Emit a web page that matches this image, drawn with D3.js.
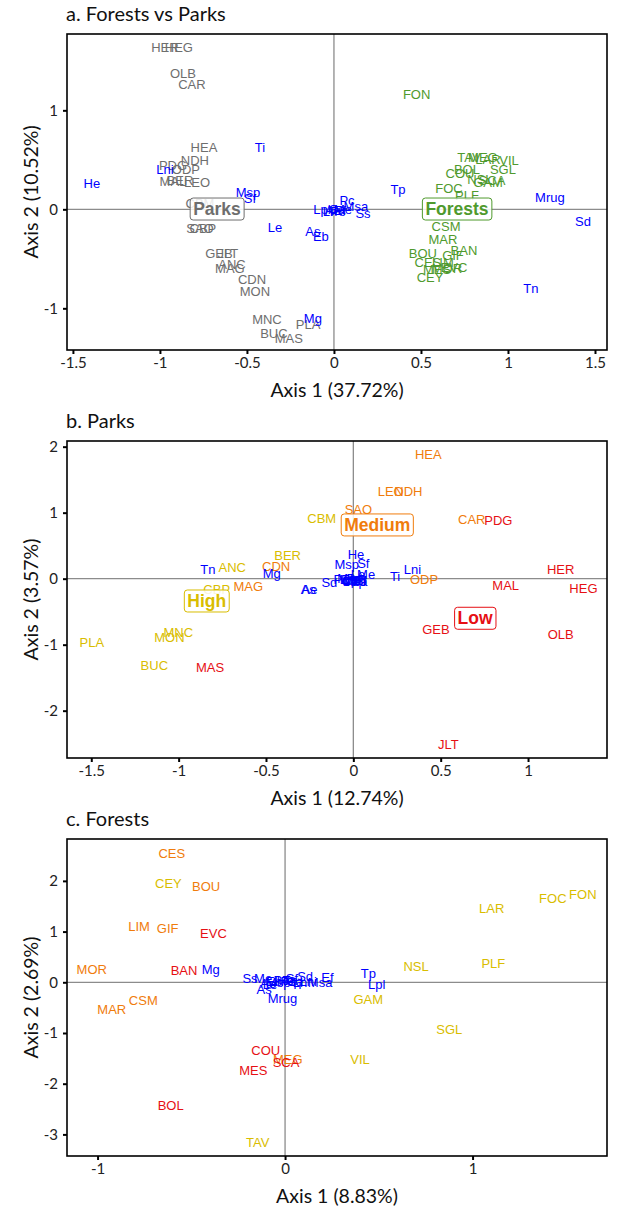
<!DOCTYPE html>
<html>
<head>
<meta charset="utf-8">
<script src="https://cdn.jsdelivr.net/npm/d3@7"></script>
<style>
  body { margin: 0; background: #fff; }
  .tick text { font-family: Lato, "Open Sans", sans-serif; font-size: 15px; fill: #222; }
</style>
</head>
<body>
<div id="chart"></div>
<script>
// ---- data: a. Forests vs Parks ----
const aParks = [
  ["HER",-0.971,1.639],["HEG",-0.891,1.639],["OLB",-0.868,1.376],["CAR",-0.816,1.265],
  ["HEA",-0.747,0.629],["NDH",-0.799,0.498],["PDG",-0.925,0.438],["ODP",-0.851,0.407],
  ["MAL",-0.925,0.286],["BER",-0.885,0.296],["LEO",-0.787,0.276],["CBM",-0.770,0.054],
  ["SAO",-0.770,-0.189],["CBP",-0.753,-0.189],["GEB",-0.661,-0.442],["JLT",-0.609,-0.442],
  ["ANC",-0.586,-0.553],["MAG",-0.598,-0.594],["CDN",-0.471,-0.705],["MON",-0.454,-0.826],
  ["MNC",-0.385,-1.109],["BUC",-0.345,-1.250],["MAS",-0.259,-1.301],["PLA",-0.149,-1.159]
];
const aForests = [
  ["FON",0.475,1.162],["TAV",0.776,0.528],["LAR",0.885,0.508],["MEG",0.856,0.528],
  ["VIL",1.006,0.498],["BOL",0.764,0.407],["SGL",0.971,0.407],["COU",0.724,0.357],
  ["NSL",0.839,0.306],["GAM",0.885,0.276],["SCA",0.908,0.296],["FOC",0.661,0.215],
  ["PLF",0.764,0.144],["CSM",0.644,-0.169],["MAR",0.626,-0.301],["BAN",0.747,-0.412],
  ["BOU",0.511,-0.442],["GIF",0.684,-0.462],["LIM",0.626,-0.533],["CES",0.540,-0.533],
  ["MES",0.592,-0.604],["MOR",0.649,-0.594],["EVC",0.690,-0.583],["CEY",0.552,-0.684]
];
const aSpecies = [
  ["He",-1.391,0.256],["Lni",-0.971,0.407],["Ti",-0.425,0.629],["Msp",-0.494,0.175],
  ["Sf",-0.483,0.114],["Le",-0.339,-0.179],["As",-0.121,-0.220],["Eb",-0.075,-0.270],
  ["Mg",-0.121,-1.099],["Tp",0.368,0.205],["Mrug",1.241,0.124],["Sd",1.431,-0.119],
  ["Tn",1.132,-0.795],["Lpl",-0.069,0.003],["Pc",0.075,0.094],["Ss",0.167,-0.047],
  ["Ae",-0.006,-0.007],["Ca",0.017,0.003],["Ef",0.034,-0.007],["Me",0.052,0.003],
  ["Ps",0.023,-0.017],["Msa",0.126,0.033],["Lh",-0.023,-0.017]
];
const aGroups = [["Parks",-0.672,0.003],["Forests",0.707,0.003]];

// ---- data: b. Parks ----
const bHigh = [
  ["CBM",-0.181,0.915],["BER",-0.376,0.355],["ANC",-0.693,0.173],["CBP",-0.782,-0.161],
  ["PLA",-1.497,-0.964],["MNC",-1.002,-0.818],["MON",-1.053,-0.888],["BUC",-1.139,-1.308]
];
const bMedium = [
  ["SAO",0.029,1.041],["HEA",0.429,1.885],["LEO",0.214,1.318],["NDH",0.315,1.318],
  ["CAR",0.678,0.900],["ODP",0.405,-0.020],["CDN",-0.442,0.182],["MAG",-0.601,-0.121]
];
const bLow = [
  ["PDG",0.830,0.889],["HER",1.187,0.132],["MAL",0.872,-0.106],["HEG",1.317,-0.156],
  ["GEB",0.473,-0.767],["OLB",1.187,-0.853],["JLT",0.544,-2.509],["MAS",-0.820,-1.342]
];
const bSpecies = [
  ["Tn",-0.833,0.132],["Mg",-0.467,0.071],["As",-0.258,-0.161],["Ae",-0.251,-0.161],
  ["Sd",-0.137,-0.061],["He",0.015,0.359],["Msp",-0.038,0.218],["Sf",0.057,0.233],
  ["Le",0.027,0.056],["Me",0.073,0.056],["Ti",0.239,0.030],["Lni",0.338,0.132],
  ["Pc",-0.070,-0.020],["Eb",-0.025,-0.020],["Ss",0.015,-0.035],["Lpl",-0.007,-0.035],
  ["Ef",0.038,-0.035],["Ps",0.004,0.000],["Ca",-0.019,-0.050],["Msa",0.010,-0.050],
  ["Lh",-0.036,-0.020],["Tp",0.027,-0.050],["Mrug",-0.007,0.000]
];
const bGroups = [["High",-0.839,-0.338],["Medium",0.137,0.814],["Low",0.697,-0.600]];

// ---- data: c. Forests ----
const cHigh = [
  ["CEY",-0.622,1.953],["TAV",-0.146,-3.164],["LAR",1.102,1.460],["FOC",1.428,1.657],
  ["FON",1.588,1.736],["NSL",0.699,0.308],["PLF",1.111,0.375],["GAM",0.444,-0.349],
  ["SGL",0.876,-0.927],["VIL",0.400,-1.513]
];
const cMedium = [
  ["CES",-0.604,2.544],["BOU",-0.421,1.886],["LIM",-0.779,1.097],["GIF",-0.626,1.051],
  ["MOR",-1.031,0.256],["CSM",-0.756,-0.363],["MAR",-0.924,-0.546],["MEG",0.014,-1.519]
];
const cLow = [
  ["EVC",-0.382,0.953],["BAN",-0.539,0.229],["COU",-0.103,-1.355],["SCA",0.005,-1.578],
  ["MES",-0.169,-1.744],["BOL",-0.610,-2.434]
];
const cSpecies = [
  ["Mg",-0.396,0.256],["Ss",-0.187,0.079],["As",-0.112,-0.152],["Mrug",-0.014,-0.316],
  ["Sd",0.107,0.124],["Ef",0.226,0.091],["Msa",0.187,0.000],["Tp",0.444,0.164],
  ["Lpl",0.489,-0.053],["Me",-0.117,0.065],["Ae",-0.091,-0.030],["Eb",-0.059,0.006],
  ["Pc",-0.021,0.026],["Ps",0.016,0.006],["Ca",0.053,0.006],["Lh",0.080,-0.014],
  ["Le",-0.080,-0.050],["Sf",0.037,0.065],["Msp",-0.037,-0.014],["He",0.000,0.045],
  ["Lni",0.123,0.006],["Ti",0.059,-0.034],["Tn",0.027,0.026]
];

// ---- ticks / titles ----
const aXTicks = [-1.5,-1,-0.5,0,0.5,1,1.5], aYTicks = [-1,0,1];
const bXTicks = [-1.5,-1,-0.5,0,0.5,1],     bYTicks = [-2,-1,0,1,2];
const cXTicks = [-1,0,1],                   cYTicks = [-3,-2,-1,0,1,2];

const colors = {
  parks: "#6e6e6e", forests: "#4f9a2d", species: "#0000ff",
  high: "#d9bd00", medium: "#f07c0c", low: "#e60f14"
};

const width = 620, height = 1222;
const svg = d3.select("#chart").append("svg")
  .attr("width", width).attr("height", height);

function drawPanel(p) {
  const x = d3.scaleLinear().domain(p.xDomain).range([p.left, p.right]);
  const y = d3.scaleLinear().domain(p.yDomain).range([p.bottom, p.top]);
  const g = svg.append("g");

  // linhas do zero
  g.append("line")
    .attr("x1", p.left).attr("x2", p.right).attr("y1", y(0)).attr("y2", y(0))
    .attr("stroke", "#8c8c8c").attr("stroke-width", 1.3);
  g.append("line")
    .attr("x1", x(0)).attr("x2", x(0)).attr("y1", p.top).attr("y2", p.bottom)
    .attr("stroke", "#8c8c8c").attr("stroke-width", 1.3);

  // eixos
  const xa = g.append("g").attr("transform", `translate(0,${p.bottom})`)
    .call(d3.axisBottom(x).tickValues(p.xTicks).tickSize(4).tickPadding(3).tickFormat(d => String(d)));
  const ya = g.append("g").attr("transform", `translate(${p.left},0)`)
    .call(d3.axisLeft(y).tickValues(p.yTicks).tickSize(4).tickPadding(5).tickFormat(d => String(d)));
  [xa, ya].forEach(a => {
    a.select(".domain").remove();
    a.selectAll(".tick line").attr("stroke", "#000").attr("stroke-width", 2);
  });

  // sites / species
  p.layers.forEach(layer => {
    g.append("g").selectAll("text").data(layer.data).join("text")
      .attr("x", d => x(d[1])).attr("y", d => y(d[2]))
      .attr("text-anchor", "middle").attr("dominant-baseline", "central")
      .attr("font-family", "'Liberation Sans', Arial, sans-serif")
      .attr("font-size", 13)
      .attr("fill", layer.color)
      .text(d => d[0]);
  });

  // group labels with boxes
  p.groups.forEach((d, i) => {
    const lg = g.append("g");
    const rect = lg.append("rect");
    const t = lg.append("text")
      .attr("x", x(d[1])).attr("y", y(d[2]))
      .attr("text-anchor", "middle").attr("dominant-baseline", "central")
      .attr("font-family", "'Liberation Sans', Arial, sans-serif")
      .attr("font-weight", "bold").attr("font-size", 17.5)
      .attr("fill", p.groupColors[i])
      .text(d[0]);
    const bb = t.node().getBBox();
    rect.attr("x", bb.x - 3).attr("y", bb.y - 1)
      .attr("width", bb.width + 6).attr("height", bb.height + 2)
      .attr("rx", 3)
      .attr("fill", "rgba(255,255,255,0.85)")
      .attr("stroke", p.groupColors[i]).attr("stroke-width", 1);
  });

  // moldura
  g.append("rect")
    .attr("x", p.left).attr("y", p.top)
    .attr("width", p.right - p.left).attr("height", p.bottom - p.top)
    .attr("fill", "none").attr("stroke", "#000").attr("stroke-width", 1.6);

  // titulos
  g.append("text")
    .attr("x", 66).attr("y", p.top - 13)
    .attr("font-family", "Lato, 'Open Sans', sans-serif").attr("font-size", 20)
    .attr("fill", "#111")
    .text(p.title);
  g.append("text")
    .attr("x", (p.left + p.right) / 2).attr("y", p.bottom + 47)
    .attr("text-anchor", "middle")
    .attr("font-family", "Lato, 'Open Sans', sans-serif").attr("font-size", 19.5)
    .attr("fill", "#111")
    .text(p.xLabel);
  g.append("text")
    .attr("transform", `translate(30,${(p.top + p.bottom) / 2}) rotate(-90)`)
    .attr("text-anchor", "middle").attr("dominant-baseline", "central")
    .attr("font-family", "Lato, 'Open Sans', sans-serif").attr("font-size", 19.5)
    .attr("fill", "#111")
    .text(p.yLabel);
}

drawPanel({
  title: "a. Forests vs Parks", xLabel: "Axis 1 (37.72%)", yLabel: "Axis 2 (10.52%)",
  left: 67, right: 607, top: 34, bottom: 350,
  xDomain: [-1.534, 1.569], yDomain: [-1.421, 1.771],
  xTicks: aXTicks, yTicks: aYTicks,
  layers: [
    { data: aParks, color: colors.parks },
    { data: aForests, color: colors.forests },
    { data: aSpecies, color: colors.species }
  ],
  groups: aGroups, groupColors: [colors.parks, colors.forests]
});

drawPanel({
  title: "b. Parks", xLabel: "Axis 1 (12.74%)", yLabel: "Axis 2 (3.57%)",
  left: 67, right: 607, top: 441, bottom: 758,
  xDomain: [-1.639, 1.452], yDomain: [-2.717, 2.086],
  xTicks: bXTicks, yTicks: bYTicks,
  layers: [
    { data: bHigh, color: colors.high },
    { data: bMedium, color: colors.medium },
    { data: bLow, color: colors.low },
    { data: bSpecies, color: colors.species }
  ],
  groups: bGroups, groupColors: [colors.high, colors.medium, colors.low]
});

drawPanel({
  title: "c. Forests", xLabel: "Axis 1 (8.83%)", yLabel: "Axis 2 (2.69%)",
  left: 67, right: 607, top: 839, bottom: 1156,
  xDomain: [-1.163, 1.717], yDomain: [-3.426, 2.826],
  xTicks: cXTicks, yTicks: cYTicks,
  layers: [
    { data: cHigh, color: colors.high },
    { data: cMedium, color: colors.medium },
    { data: cLow, color: colors.low },
    { data: cSpecies, color: colors.species }
  ],
  groups: [], groupColors: []
});
</script>
</body>
</html>
